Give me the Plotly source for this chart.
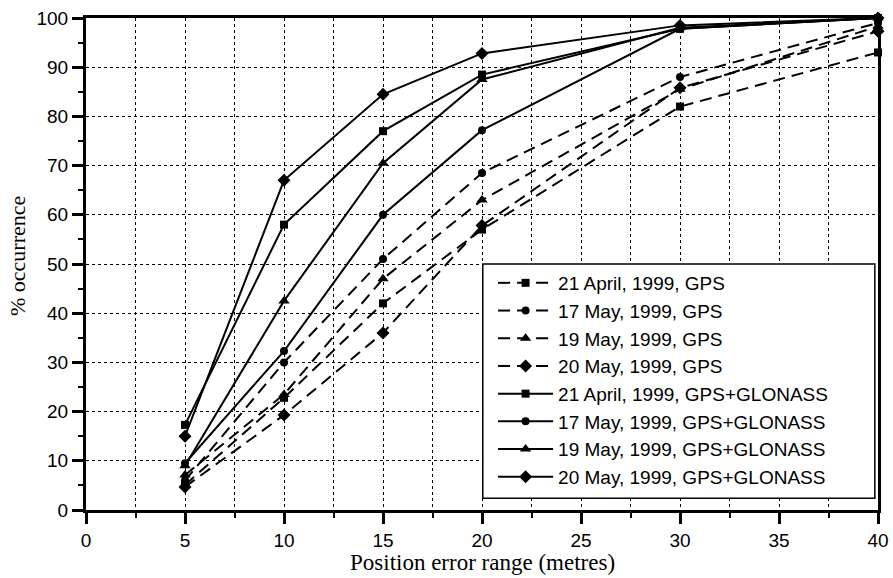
import plotly.graph_objects as go

x_vals = [5, 10, 15, 20, 30, 40]

gps_21apr = [5.1, 22.8, 42.0, 57.0, 82.0, 93.0]
gps_17may = [6.0, 30.0, 51.0, 68.5, 88.0, 99.0]
gps_19may = [7.1, 23.5, 47.0, 63.0, 85.5, 98.3]
gps_20may = [4.7, 19.3, 36.0, 57.8, 85.8, 97.3]

gg_21apr = [17.3, 58.0, 77.0, 88.5, 97.8, 100.0]
gg_17may = [9.5, 32.3, 60.0, 77.2, 97.8, 100.0]
gg_19may = [9.0, 42.5, 70.5, 87.5, 98.0, 100.0]
gg_20may = [15.0, 67.0, 84.5, 92.8, 98.5, 100.0]

series = [
    ("21 April, 1999, GPS", gps_21apr, "square", "dash"),
    ("17 May, 1999, GPS", gps_17may, "circle", "dash"),
    ("19 May, 1999, GPS", gps_19may, "triangle-up", "dash"),
    ("20 May, 1999, GPS", gps_20may, "diamond", "dash"),
    ("21 April, 1999, GPS+GLONASS", gg_21apr, "square", "solid"),
    ("17 May, 1999, GPS+GLONASS", gg_17may, "circle", "solid"),
    ("19 May, 1999, GPS+GLONASS", gg_19may, "triangle-up", "solid"),
    ("20 May, 1999, GPS+GLONASS", gg_20may, "diamond", "solid"),
]
sizes = {"square": 8, "circle": 8, "triangle-up": 10, "diamond": 10}

fig = go.Figure()
for name, ys, sym, dash in series:
    fig.add_trace(go.Scatter(
        x=x_vals, y=ys, name=name, mode="lines+markers",
        line=dict(color="black", width=2, dash="12px,7px" if dash == "dash" else "solid"),
        marker=dict(symbol=sym, size=sizes[sym], color="black"),
        cliponaxis=False,
    ))

fig.update_layout(
    width=893, height=578,
    margin=dict(l=86, r=15, t=18, b=68),
    paper_bgcolor="white", plot_bgcolor="white",
    font=dict(family="Liberation Sans, Arial, sans-serif", size=19, color="black"),
    showlegend=True,
    legend=dict(
        x=0.514, y=0.5, xanchor="left", yanchor="top",
        borderwidth=0, bgcolor="rgba(0,0,0,0)",
        font=dict(family="Liberation Sans, Arial, sans-serif", size=19),
        itemwidth=55, tracegroupgap=0,
    ),
    shapes=[
        dict(type="rect", xref="paper", yref="paper",
             x0=0.501, x1=0.996, y0=0.024, y1=0.5,
             line=dict(color="black", width=1.5), fillcolor="white", layer="above"),
    ],
    annotations=[
        dict(text="Position error range (metres)", xref="paper", yref="paper",
             x=0.5, y=-0.106, xanchor="center", yanchor="middle", showarrow=False,
             font=dict(family="Liberation Serif, Times New Roman, serif", size=23)),
        dict(text="% occurrence", xref="paper", yref="paper", textangle=-90,
             x=-0.0873, y=0.516, xanchor="center", yanchor="middle", showarrow=False,
             font=dict(family="Liberation Serif, Times New Roman, serif", size=22)),
    ],
)

fig.update_xaxes(
    range=[0, 40], tickmode="linear", tick0=0, dtick=5, automargin=False,
    showgrid=True, gridcolor="black", griddash="dot", gridwidth=1,
    minor=dict(tickmode="linear", tick0=0, dtick=2.5, showgrid=True,
               gridcolor="black", griddash="dot", gridwidth=1,
               ticks="outside", ticklen=5, tickcolor="black", tickwidth=2),
    ticks="outside", ticklen=11, tickwidth=3, tickcolor="black",
    showline=True, linecolor="black", linewidth=3, mirror=True,
    zeroline=False,
)
fig.update_yaxes(
    range=[0, 100], tickmode="linear", tick0=0, dtick=10, automargin=False,
    showgrid=True, gridcolor="black", griddash="dot", gridwidth=1,
    minor=dict(tickmode="linear", tick0=0, dtick=5, showgrid=False,
               ticks="outside", ticklen=5, tickcolor="black", tickwidth=2),
    ticks="outside", ticklen=11, tickwidth=3, tickcolor="black",
    showline=True, linecolor="black", linewidth=3, mirror=True,
    zeroline=False,
)

fig.write_html("out.html")
